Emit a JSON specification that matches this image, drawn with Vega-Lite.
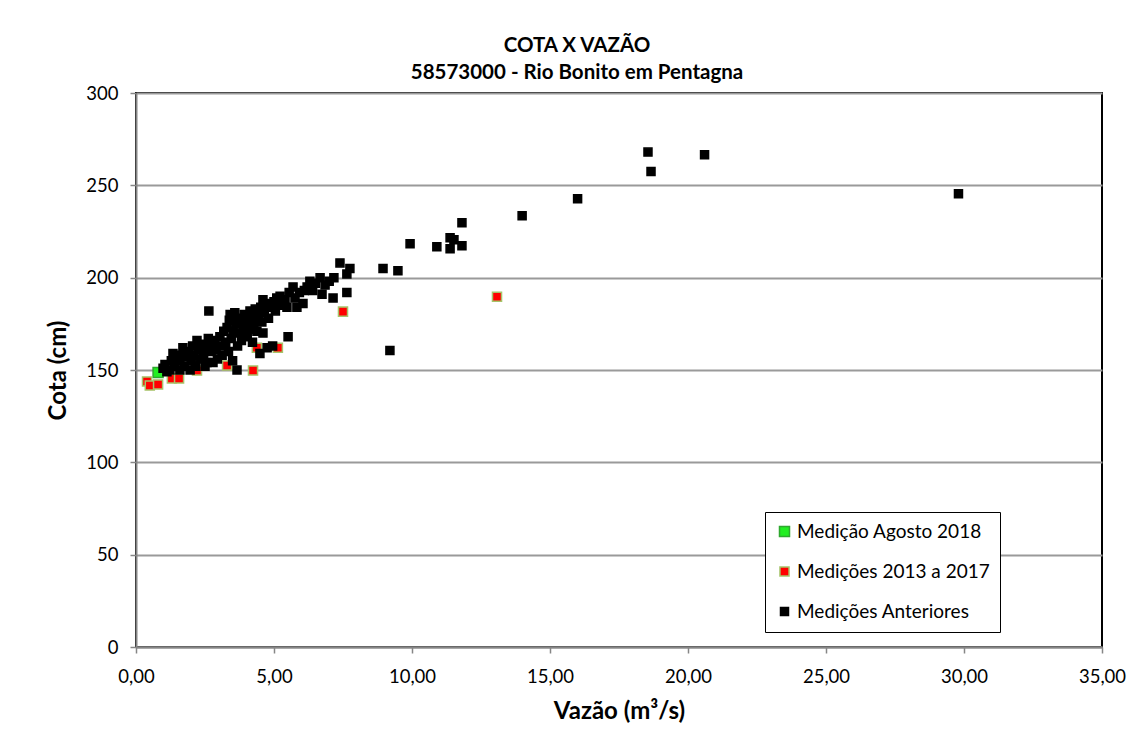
{
  "$schema": "https://vega.github.io/schema/vega-lite/v6.json",
  "width": 966,
  "height": 554,
  "autosize": {"type": "none"},
  "padding": {"left": 136, "top": 93, "right": 29, "bottom": 89},
  "background": "white",
  "config": {
    "font": "Lato",
    "view": {"stroke": "#000000", "strokeWidth": 2},
    "axis": {"labelFont": "Lato", "titleFont": "Lato", "labelColor": "#000000", "titleColor": "#000000"}
  },
  "title": {
    "text": ["COTA X VAZÃO", "58573000 - Rio Bonito em Pentagna"],
    "anchor": "middle",
    "frame": "group",
    "dx": -42,
    "offset": 1,
    "fontSize": 20.5,
    "fontWeight": "bold",
    "lineHeight": 27,
    "color": "#000000",
    "font": "Lato"
  },
  "datasets": {
    "pts": [
      {"vazao": 0.80, "cota": 148.6, "serie": "Medição Agosto 2018"},
      {"vazao": 0.40, "cota": 143.8, "serie": "Medições 2013 a 2017"},
      {"vazao": 0.50, "cota": 141.6, "serie": "Medições 2013 a 2017"},
      {"vazao": 0.80, "cota": 142.2, "serie": "Medições 2013 a 2017"},
      {"vazao": 1.30, "cota": 145.4, "serie": "Medições 2013 a 2017"},
      {"vazao": 1.56, "cota": 145.4, "serie": "Medições 2013 a 2017"},
      {"vazao": 2.21, "cota": 149.7, "serie": "Medições 2013 a 2017"},
      {"vazao": 3.30, "cota": 152.4, "serie": "Medições 2013 a 2017"},
      {"vazao": 4.24, "cota": 149.7, "serie": "Medições 2013 a 2017"},
      {"vazao": 4.38, "cota": 162.0, "serie": "Medições 2013 a 2017"},
      {"vazao": 5.14, "cota": 162.0, "serie": "Medições 2013 a 2017"},
      {"vazao": 7.50, "cota": 181.6, "serie": "Medições 2013 a 2017"},
      {"vazao": 13.08, "cota": 189.7, "serie": "Medições 2013 a 2017"},
      {"vazao": 0.98, "cota": 151, "serie": "Medições Anteriores"},
      {"vazao": 1.05, "cota": 153, "serie": "Medições Anteriores"},
      {"vazao": 1.12, "cota": 149, "serie": "Medições Anteriores"},
      {"vazao": 1.23, "cota": 150, "serie": "Medições Anteriores"},
      {"vazao": 1.28, "cota": 155, "serie": "Medições Anteriores"},
      {"vazao": 1.34, "cota": 159, "serie": "Medições Anteriores"},
      {"vazao": 1.40, "cota": 152, "serie": "Medições Anteriores"},
      {"vazao": 1.48, "cota": 156, "serie": "Medições Anteriores"},
      {"vazao": 1.59, "cota": 150, "serie": "Medições Anteriores"},
      {"vazao": 1.59, "cota": 155, "serie": "Medições Anteriores"},
      {"vazao": 1.65, "cota": 158, "serie": "Medições Anteriores"},
      {"vazao": 1.70, "cota": 162, "serie": "Medições Anteriores"},
      {"vazao": 1.75, "cota": 152, "serie": "Medições Anteriores"},
      {"vazao": 1.82, "cota": 157, "serie": "Medições Anteriores"},
      {"vazao": 1.90, "cota": 160, "serie": "Medições Anteriores"},
      {"vazao": 1.96, "cota": 150, "serie": "Medições Anteriores"},
      {"vazao": 2.00, "cota": 155, "serie": "Medições Anteriores"},
      {"vazao": 2.05, "cota": 163, "serie": "Medições Anteriores"},
      {"vazao": 2.10, "cota": 158, "serie": "Medições Anteriores"},
      {"vazao": 2.15, "cota": 152, "serie": "Medições Anteriores"},
      {"vazao": 2.21, "cota": 166, "serie": "Medições Anteriores"},
      {"vazao": 2.25, "cota": 161, "serie": "Medições Anteriores"},
      {"vazao": 2.32, "cota": 156, "serie": "Medições Anteriores"},
      {"vazao": 2.38, "cota": 164, "serie": "Medições Anteriores"},
      {"vazao": 2.45, "cota": 159, "serie": "Medições Anteriores"},
      {"vazao": 2.50, "cota": 152, "serie": "Medições Anteriores"},
      {"vazao": 2.57, "cota": 154, "serie": "Medições Anteriores"},
      {"vazao": 2.62, "cota": 167, "serie": "Medições Anteriores"},
      {"vazao": 2.64, "cota": 182, "serie": "Medições Anteriores"},
      {"vazao": 2.68, "cota": 164, "serie": "Medições Anteriores"},
      {"vazao": 2.72, "cota": 160, "serie": "Medições Anteriores"},
      {"vazao": 2.79, "cota": 154, "serie": "Medições Anteriores"},
      {"vazao": 2.85, "cota": 166, "serie": "Medições Anteriores"},
      {"vazao": 2.90, "cota": 161, "serie": "Medições Anteriores"},
      {"vazao": 2.95, "cota": 156, "serie": "Medições Anteriores"},
      {"vazao": 3.04, "cota": 168, "serie": "Medições Anteriores"},
      {"vazao": 3.08, "cota": 163, "serie": "Medições Anteriores"},
      {"vazao": 3.12, "cota": 158, "serie": "Medições Anteriores"},
      {"vazao": 3.18, "cota": 171, "serie": "Medições Anteriores"},
      {"vazao": 3.25, "cota": 165, "serie": "Medições Anteriores"},
      {"vazao": 3.30, "cota": 173, "serie": "Medições Anteriores"},
      {"vazao": 3.35, "cota": 160, "serie": "Medições Anteriores"},
      {"vazao": 3.38, "cota": 177, "serie": "Medições Anteriores"},
      {"vazao": 3.41, "cota": 180, "serie": "Medições Anteriores"},
      {"vazao": 3.45, "cota": 167, "serie": "Medições Anteriores"},
      {"vazao": 3.50, "cota": 155, "serie": "Medições Anteriores"},
      {"vazao": 3.52, "cota": 171, "serie": "Medições Anteriores"},
      {"vazao": 3.58, "cota": 181, "serie": "Medições Anteriores"},
      {"vazao": 3.62, "cota": 175, "serie": "Medições Anteriores"},
      {"vazao": 3.66, "cota": 150, "serie": "Medições Anteriores"},
      {"vazao": 3.68, "cota": 163, "serie": "Medições Anteriores"},
      {"vazao": 3.72, "cota": 178, "serie": "Medições Anteriores"},
      {"vazao": 3.77, "cota": 170, "serie": "Medições Anteriores"},
      {"vazao": 3.82, "cota": 166, "serie": "Medições Anteriores"},
      {"vazao": 3.88, "cota": 174, "serie": "Medições Anteriores"},
      {"vazao": 3.92, "cota": 180, "serie": "Medições Anteriores"},
      {"vazao": 3.98, "cota": 176, "serie": "Medições Anteriores"},
      {"vazao": 4.03, "cota": 168, "serie": "Medições Anteriores"},
      {"vazao": 4.08, "cota": 172, "serie": "Medições Anteriores"},
      {"vazao": 4.13, "cota": 182, "serie": "Medições Anteriores"},
      {"vazao": 4.18, "cota": 178, "serie": "Medições Anteriores"},
      {"vazao": 4.22, "cota": 165, "serie": "Medições Anteriores"},
      {"vazao": 4.27, "cota": 175, "serie": "Medições Anteriores"},
      {"vazao": 4.32, "cota": 183, "serie": "Medições Anteriores"},
      {"vazao": 4.38, "cota": 171, "serie": "Medições Anteriores"},
      {"vazao": 4.44, "cota": 179, "serie": "Medições Anteriores"},
      {"vazao": 4.49, "cota": 159, "serie": "Medições Anteriores"},
      {"vazao": 4.52, "cota": 184, "serie": "Medições Anteriores"},
      {"vazao": 4.56, "cota": 176, "serie": "Medições Anteriores"},
      {"vazao": 4.60, "cota": 170, "serie": "Medições Anteriores"},
      {"vazao": 4.60, "cota": 188, "serie": "Medições Anteriores"},
      {"vazao": 4.65, "cota": 181, "serie": "Medições Anteriores"},
      {"vazao": 4.70, "cota": 186, "serie": "Medições Anteriores"},
      {"vazao": 4.75, "cota": 162, "serie": "Medições Anteriores"},
      {"vazao": 4.80, "cota": 178, "serie": "Medições Anteriores"},
      {"vazao": 4.88, "cota": 184, "serie": "Medições Anteriores"},
      {"vazao": 4.95, "cota": 163, "serie": "Medições Anteriores"},
      {"vazao": 5.00, "cota": 187, "serie": "Medições Anteriores"},
      {"vazao": 5.05, "cota": 182, "serie": "Medições Anteriores"},
      {"vazao": 5.10, "cota": 189, "serie": "Medições Anteriores"},
      {"vazao": 5.20, "cota": 186, "serie": "Medições Anteriores"},
      {"vazao": 5.22, "cota": 190, "serie": "Medições Anteriores"},
      {"vazao": 5.32, "cota": 185, "serie": "Medições Anteriores"},
      {"vazao": 5.40, "cota": 188, "serie": "Medições Anteriores"},
      {"vazao": 5.47, "cota": 184, "serie": "Medições Anteriores"},
      {"vazao": 5.51, "cota": 168, "serie": "Medições Anteriores"},
      {"vazao": 5.55, "cota": 192, "serie": "Medições Anteriores"},
      {"vazao": 5.69, "cota": 195, "serie": "Medições Anteriores"},
      {"vazao": 5.76, "cota": 189, "serie": "Medições Anteriores"},
      {"vazao": 5.83, "cota": 184, "serie": "Medições Anteriores"},
      {"vazao": 5.92, "cota": 192, "serie": "Medições Anteriores"},
      {"vazao": 6.05, "cota": 186, "serie": "Medições Anteriores"},
      {"vazao": 6.10, "cota": 193, "serie": "Medições Anteriores"},
      {"vazao": 6.20, "cota": 195, "serie": "Medições Anteriores"},
      {"vazao": 6.30, "cota": 198, "serie": "Medições Anteriores"},
      {"vazao": 6.40, "cota": 193, "serie": "Medições Anteriores"},
      {"vazao": 6.50, "cota": 197, "serie": "Medições Anteriores"},
      {"vazao": 6.67, "cota": 200, "serie": "Medições Anteriores"},
      {"vazao": 6.74, "cota": 191, "serie": "Medições Anteriores"},
      {"vazao": 6.85, "cota": 196, "serie": "Medições Anteriores"},
      {"vazao": 7.00, "cota": 198, "serie": "Medições Anteriores"},
      {"vazao": 7.14, "cota": 189, "serie": "Medições Anteriores"},
      {"vazao": 7.17, "cota": 200, "serie": "Medições Anteriores"},
      {"vazao": 7.39, "cota": 208, "serie": "Medições Anteriores"},
      {"vazao": 7.64, "cota": 192, "serie": "Medições Anteriores"},
      {"vazao": 7.64, "cota": 202, "serie": "Medições Anteriores"},
      {"vazao": 7.75, "cota": 205, "serie": "Medições Anteriores"},
      {"vazao": 8.95, "cota": 204.9, "serie": "Medições Anteriores"},
      {"vazao": 9.49, "cota": 203.8, "serie": "Medições Anteriores"},
      {"vazao": 9.20, "cota": 160.5, "serie": "Medições Anteriores"},
      {"vazao": 9.93, "cota": 218.4, "serie": "Medições Anteriores"},
      {"vazao": 10.90, "cota": 216.8, "serie": "Medições Anteriores"},
      {"vazao": 11.38, "cota": 221.6, "serie": "Medições Anteriores"},
      {"vazao": 11.52, "cota": 220.5, "serie": "Medições Anteriores"},
      {"vazao": 11.38, "cota": 215.7, "serie": "Medições Anteriores"},
      {"vazao": 11.81, "cota": 217.3, "serie": "Medições Anteriores"},
      {"vazao": 11.81, "cota": 229.7, "serie": "Medições Anteriores"},
      {"vazao": 13.99, "cota": 233.5, "serie": "Medições Anteriores"},
      {"vazao": 16.00, "cota": 242.7, "serie": "Medições Anteriores"},
      {"vazao": 18.55, "cota": 268.0, "serie": "Medições Anteriores"},
      {"vazao": 18.66, "cota": 257.5, "serie": "Medições Anteriores"},
      {"vazao": 20.60, "cota": 266.5, "serie": "Medições Anteriores"},
      {"vazao": 29.80, "cota": 245.5, "serie": "Medições Anteriores"}
    ]
  },
  "data": {"name": "pts"},
  "mark": {"type": "point", "shape": "square", "filled": true, "opacity": 1, "strokeWidth": 1.5},
  "encoding": {
    "x": {
      "field": "vazao", "type": "quantitative",
      "scale": {"domain": [0, 35], "nice": false, "zero": false},
      "axis": {
        "title": "Vazão (m³/s)",
        "values": [0, 5, 10, 15, 20, 25, 30, 35],
        "labelExpr": "replace(format(datum.value, '.2f'), '.', ',')",
        "labelFlush": false,
        "grid": false,
        "domainColor": "#868686", "domainWidth": 2,
        "tickColor": "#868686", "tickWidth": 1.5, "tickSize": 6,
        "labelFontSize": 18.5, "labelPadding": 14,
        "titleFontSize": 24, "titleFontWeight": "bold", "titlePadding": 14
      }
    },
    "y": {
      "field": "cota", "type": "quantitative",
      "scale": {"domain": [0, 300], "nice": false, "zero": false},
      "axis": {
        "title": "Cota (cm)",
        "values": [0, 50, 100, 150, 200, 250, 300],
        "grid": true, "gridColor": "#9a9a9a", "gridWidth": 2,
        "domainColor": "#868686", "domainWidth": 2,
        "tickColor": "#868686", "tickWidth": 1.5, "tickSize": 6,
        "labelFontSize": 18.5, "labelPadding": 12,
        "titleFontSize": 24, "titleFontWeight": "bold", "titlePadding": 15
      }
    },
    "fill": {
      "field": "serie", "type": "nominal",
      "scale": {"domain": ["Medição Agosto 2018", "Medições 2013 a 2017", "Medições Anteriores"], "range": ["#22ee22", "#ff0000", "#000000"]},
      "legend": {
        "title": null, "orient": "none", "legendX": 629, "legendY": 419,
        "direction": "vertical",
        "strokeColor": "#000000", "fillColor": "#ffffff",
        "padding": 10, "rowPadding": 20,
        "labelFontSize": 19, "labelFont": "Lato", "labelColor": "#000000", "labelOffset": 3,
        "labelLimit": 400,
        "symbolType": "square"
      }
    },
    "stroke": {
      "field": "serie", "type": "nominal",
      "scale": {"domain": ["Medição Agosto 2018", "Medições 2013 a 2017", "Medições Anteriores"], "range": ["#2fa82f", "#a6c46a", "#000000"]}
    },
    "size": {
      "field": "serie", "type": "nominal",
      "scale": {"domain": ["Medição Agosto 2018", "Medições 2013 a 2017", "Medições Anteriores"], "range": [100, 64, 81]}
    }
  }
}
